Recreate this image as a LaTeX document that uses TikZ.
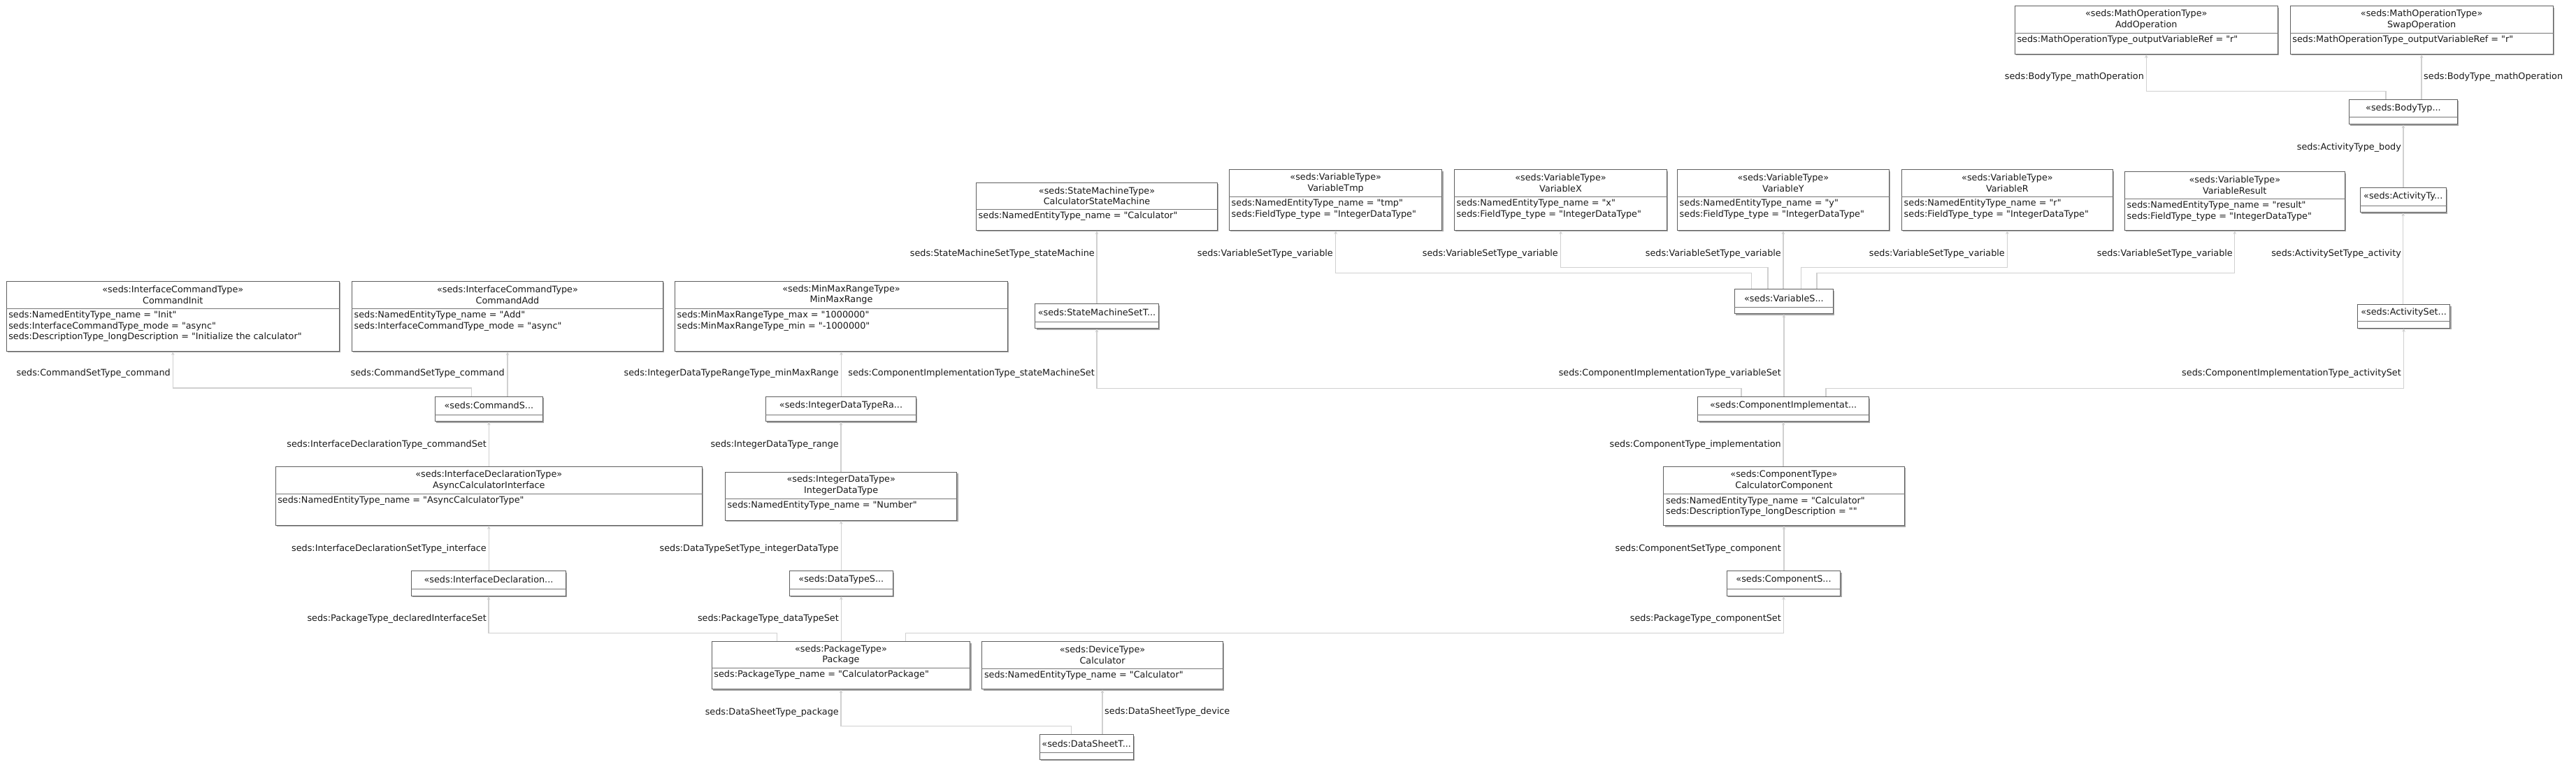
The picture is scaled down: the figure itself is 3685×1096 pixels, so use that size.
\documentclass[tikz,border=0pt]{standalone}
\usepackage{fontspec}
\setmainfont{DejaVu Sans}[Ligatures=TeXOff]
\usetikzlibrary{arrows.meta, shadows}

\definecolor{boxline}{RGB}{95,95,95}
\definecolor{conngray}{RGB}{208,208,208}
\definecolor{txtgray}{RGB}{25,25,25}

\tikzset{
  clsbox/.style={draw=boxline, fill=white, line width=1pt, anchor=north west, inner sep=0pt,
    drop shadow={shadow xshift=1.8pt, shadow yshift=-1.8pt, fill=black, opacity=0.35}},
  clssep/.style={draw=boxline!85, line width=0.8pt},
  clshead/.style={align=center, inner sep=0pt, text=txtgray},
  clsattr/.style={align=left, anchor=north west, inner xsep=3.5pt, inner ysep=3.5pt, text=txtgray},
  conn/.style={draw=conngray, line width=1.4pt, -{Stealth[length=5pt, width=4.5pt]}},
  lbl/.style={anchor=east, inner sep=0pt, text=txtgray},
  lblr/.style={lbl, anchor=west}
}

% name, top left, width, height, header height, header, attributes
\newcommand{\sedsclass}[7]{%
  \node[clsbox, minimum width=#3pt, minimum height=#4pt] (#1) at (#2) {};
  \draw[clssep] ([yshift=-#5pt]#1.north west) -- ([yshift=-#5pt]#1.north east);
  \node[clshead] (#1-head) at ([yshift=-#5pt/2]#1.north) {#6};
  \node[clsattr] (#1-attr) at ([yshift=-#5pt]#1.north west) {#7};
}

\begin{document}
\begin{tikzpicture}[x=1pt, y=-1pt, font=\fontsize{12.8}{15.6}\selectfont]
    \useasboundingbox (0,0) rectangle (3685,1096);
    \fill[white] (0,0) rectangle (3685,1096);

    \sedsclass{cmdinit}{8.6,402}{476.4}{100}{39.3}{«seds:InterfaceCommandType»\\CommandInit}{seds:NamedEntityType\_name = "Init"\\seds:InterfaceCommandType\_mode = "async"\\seds:DescriptionType\_longDescription = "Initialize the calculator"}
    \sedsclass{cmdadd}{503,402}{445}{100}{39.3}{«seds:InterfaceCommandType»\\CommandAdd}{seds:NamedEntityType\_name = "Add"\\seds:InterfaceCommandType\_mode = "async"}
    \sedsclass{minmax}{965,402}{476}{100}{39.3}{«seds:MinMaxRangeType»\\MinMaxRange}{seds:MinMaxRangeType\_max = "1000000"\\seds:MinMaxRangeType\_min = "-1000000"}
    \sedsclass{calcsm}{1396,261}{345}{68}{38.3}{«seds:StateMachineType»\\CalculatorStateMachine}{seds:NamedEntityType\_name = "Calculator"}
    \sedsclass{smset}{1480.4,434.3}{176.2}{35}{25.7}{«seds:StateMachineSetT...}{}

    \sedsclass{vtmp}{1758,242.3}{304.4}{86.7}{39}{«seds:VariableType»\\VariableTmp}{seds:NamedEntityType\_name = "tmp"\\seds:FieldType\_type = "IntegerDataType"}
    \sedsclass{vx}{2080,242.3}{304}{86.7}{39}{«seds:VariableType»\\VariableX}{seds:NamedEntityType\_name = "x"\\seds:FieldType\_type = "IntegerDataType"}
    \sedsclass{vy}{2399,242.3}{302.7}{86.7}{39}{«seds:VariableType»\\VariableY}{seds:NamedEntityType\_name = "y"\\seds:FieldType\_type = "IntegerDataType"}
    \sedsclass{vr}{2720,242.3}{301.8}{86.7}{39}{«seds:VariableType»\\VariableR}{seds:NamedEntityType\_name = "r"\\seds:FieldType\_type = "IntegerDataType"}
    \sedsclass{vres}{3039,245.3}{314.5}{83.7}{38.7}{«seds:VariableType»\\VariableResult}{seds:NamedEntityType\_name = "result"\\seds:FieldType\_type = "IntegerDataType"}
    \sedsclass{vset}{2481,413.3}{140.7}{35}{26}{«seds:VariableS...}{}

    \sedsclass{addop}{2881.8,8.3}{375.9}{68.7}{39}{«seds:MathOperationType»\\AddOperation}{seds:MathOperationType\_outputVariableRef = "r"}
    \sedsclass{swapop}{3275.7,8.3}{375.9}{68.7}{39}{«seds:MathOperationType»\\SwapOperation}{seds:MathOperationType\_outputVariableRef = "r"}
    \sedsclass{body}{3359.8,141.7}{155.2}{35.6}{26}{«seds:BodyTyp...}{}
    \sedsclass{actty}{3375.8,268.3}{122.8}{35}{25.7}{«seds:ActivityTy...}{}
    \sedsclass{actset}{3371.7,435.3}{132.7}{33.4}{24}{«seds:ActivitySet...}{}

    \sedsclass{cmdset}{621.7,567}{154.3}{35.3}{26}{«seds:CommandS...}{}
    \sedsclass{asyncif}{393.6,667.3}{610.4}{83.7}{39}{«seds:InterfaceDeclarationType»\\AsyncCalculatorInterface}{seds:NamedEntityType\_name = "AsyncCalculatorType"}
    \sedsclass{ifdeclset}{588,816.3}{221}{35.7}{25.7}{«seds:InterfaceDeclaration...}{}
    \sedsclass{intrange}{1095,567.3}{215}{35}{25.7}{«seds:IntegerDataTypeRa...}{}
    \sedsclass{intdt}{1037,674.5}{331.4}{69.2}{38.5}{«seds:IntegerDataType»\\IntegerDataType}{seds:NamedEntityType\_name = "Number"}
    \sedsclass{dtset}{1129,816.3}{147.6}{35.7}{25.7}{«seds:DataTypeS...}{}
    \sedsclass{pkg}{1017.7,917.3}{369.6}{68}{38.2}{«seds:PackageType»\\Package}{seds:PackageType\_name = "CalculatorPackage"}
    \sedsclass{device}{1404.3,917.3}{344.4}{68}{38.7}{«seds:DeviceType»\\Calculator}{seds:NamedEntityType\_name = "Calculator"}
    \sedsclass{dsheet}{1486.7,1050.3}{134}{35.7}{26.4}{«seds:DataSheetT...}{}

    \sedsclass{compimpl}{2428.3,567.3}{244.7}{35}{26}{«seds:ComponentImplementat...}{}
    \sedsclass{calccomp}{2379.4,667}{344.1}{84.3}{39.7}{«seds:ComponentType»\\CalculatorComponent}{seds:NamedEntityType\_name = "Calculator"\\seds:DescriptionType\_longDescription = ""}
    \sedsclass{compset}{2469.7,816.3}{162.6}{35.7}{26}{«seds:ComponentS...}{}

    \draw[conn] ([xshift=-25pt]cmdset.north) -- ++(0,-12) -| (cmdinit.south);
    \draw[conn] (cmdset.north -| cmdadd.south) -- (cmdadd.south);
    \draw[conn] (asyncif.north -| cmdset.south) -- (cmdset.south);
    \draw[conn] (ifdeclset.north -| asyncif.south) -- (asyncif.south);
    \draw[conn] ([xshift=-91.5pt]pkg.north) -- ++(0,-12) -| (ifdeclset.south);
    \draw[conn] (intrange.north -| minmax.south) -- (minmax.south);
    \draw[conn] (intdt.north -| intrange.south) -- (intrange.south);
    \draw[conn] (dtset.north -| intdt.south) -- (intdt.south);
    \draw[conn] (pkg.north -| dtset.south) -- (dtset.south);
    \draw[conn] ([xshift=92.5pt]pkg.north) -- ++(0,-12) -| (compset.south);
    \draw[conn] ([xshift=-21.7pt]dsheet.north) -- ++(0,-11.6) -| (pkg.south);
    \draw[conn] (dsheet.north -| device.south) -- (device.south);

    \draw[conn] (smset.north -| calcsm.south) -- (calcsm.south);
    \draw[conn] ([xshift=-60pt]compimpl.north) -- ++(0,-12) -| (smset.south);
    \draw[conn] (compimpl.north -| vset.south) -- (vset.south);
    \draw[conn] ([xshift=61pt]compimpl.north) -- ++(0,-12) -| (actset.south);
    \draw[conn] (calccomp.north -| compimpl.south) -- (compimpl.south);
    \draw[conn] (compset.north -| calccomp.south) -- (calccomp.south);

    \draw[conn] ([xshift=-46.3pt]vset.north) -- ++(0,-22.6) -| (vtmp.south);
    \draw[conn] ([xshift=-23pt]vset.north) -- ++(0,-31) -| (vx.south);
    \draw[conn] (vset.north -| vy.south) -- (vy.south);
    \draw[conn] ([xshift=24.4pt]vset.north) -- ++(0,-31) -| (vr.south);
    \draw[conn] ([xshift=47pt]vset.north) -- ++(0,-22.6) -| (vres.south);
    \draw[conn] (actset.north -| actty.south) -- (actty.south);
    \draw[conn] (actty.north -| body.south) -- (body.south);
    \draw[conn] ([xshift=-25pt]body.north) -- ++(0,-11) -| (addop.south);
    \draw[conn] (body.north -| swapop.south) -- (swapop.south);

    \node[lbl] (l-cmdinit) at (244,534) {seds:CommandSetType\_command};
    \node[lbl] (l-cmdadd) at (722,534) {seds:CommandSetType\_command};
    \node[lbl] (l-cmdset) at (696,635.7) {seds:InterfaceDeclarationType\_commandSet};
    \node[lbl] (l-asyncif) at (696,784.7) {seds:InterfaceDeclarationSetType\_interface};
    \node[lbl] (l-ifdecl) at (696,884.7) {seds:PackageType\_declaredInterfaceSet};
    \node[lbl] (l-minmax) at (1200,534) {seds:IntegerDataTypeRangeType\_minMaxRange};
    \node[lbl] (l-intrange) at (1200,635.7) {seds:IntegerDataType\_range};
    \node[lbl] (l-intdt) at (1200,784.7) {seds:DataTypeSetType\_integerDataType};
    \node[lbl] (l-dtset) at (1200,884.7) {seds:PackageType\_dataTypeSet};
    \node[lbl] (l-pkg) at (1200,1018.7) {seds:DataSheetType\_package};
    \node[lblr] (l-device) at (1580,1018.3) {seds:DataSheetType\_device};

    \node[lbl] (l-calcsm) at (1566,362.7) {seds:StateMachineSetType\_stateMachine};
    \node[lbl] (l-smset) at (1566,534) {seds:ComponentImplementationType\_stateMachineSet};
    \node[lbl] (l-vtmp) at (1907,362.7) {seds:VariableSetType\_variable};
    \node[lbl] (l-vx) at (2229,362.7) {seds:VariableSetType\_variable};
    \node[lbl] (l-vy) at (2548,362.7) {seds:VariableSetType\_variable};
    \node[lbl] (l-vr) at (2868,362.7) {seds:VariableSetType\_variable};
    \node[lbl] (l-vres) at (3194,362.7) {seds:VariableSetType\_variable};
    \node[lbl] (l-actty) at (3435,362.7) {seds:ActivitySetType\_activity};
    \node[lbl] (l-body) at (3435,210.7) {seds:ActivityType\_body};
    \node[lbl] (l-addop) at (3067,110) {seds:BodyType\_mathOperation};
    \node[lblr] (l-swapop) at (3467,110) {seds:BodyType\_mathOperation};

    \node[lbl] (l-vset) at (2548,534) {seds:ComponentImplementationType\_variableSet};
    \node[lbl] (l-actset) at (3435,534.3) {seds:ComponentImplementationType\_activitySet};
    \node[lbl] (l-compimpl) at (2548,636) {seds:ComponentType\_implementation};
    \node[lbl] (l-calccomp) at (2548,785) {seds:ComponentSetType\_component};
    \node[lbl] (l-compset) at (2548,884.7) {seds:PackageType\_componentSet};
\end{tikzpicture}
\end{document}
